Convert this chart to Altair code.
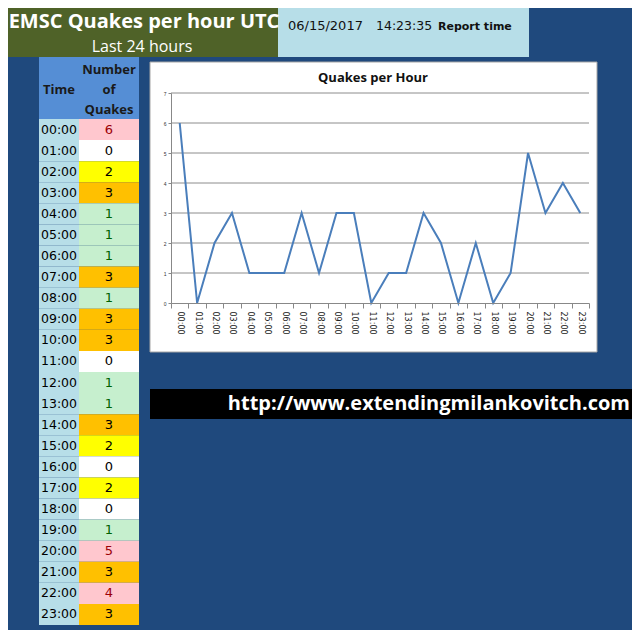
import altair as alt
import pandas as pd

# ---- data ----
hours = ["00:00", "01:00", "02:00", "03:00", "04:00", "05:00", "06:00", "07:00",
         "08:00", "09:00", "10:00", "11:00", "12:00", "13:00", "14:00", "15:00",
         "16:00", "17:00", "18:00", "19:00", "20:00", "21:00", "22:00", "23:00"]
counts = [6, 0, 2, 3, 1, 1, 1, 3, 1, 3, 3, 0, 1, 1, 3, 2, 0, 2, 0, 1, 5, 3, 4, 3]
y_ticks = [0, 1, 2, 3, 4, 5, 6, 7]
grid_vals = [1, 2, 3, 4, 5, 6, 7]
count_levels = [0, 1, 2, 3, 4, 5, 6]
report_date = "06/15/2017"
report_clock = "14:23:35"

df = pd.DataFrame({"hour": hours, "count": counts})
grid_df = pd.DataFrame({"count": grid_vals})
one = pd.DataFrame({"k": [0]})

BG = "#1F497D"
fill_range = ["#FFFFFF", "#C6EFCE", "#FFFF00", "#FFC000", "#FFC7CE", "#FFC7CE", "#FFC7CE"]
text_range = ["#000000", "#006100", "#000000", "#000000", "#9C0006", "#9C0006", "#9C0006"]


def box(x, x2, y, y2, color, **kw):
    return alt.Chart(one).mark_rect(color=color, **kw).encode(
        x=alt.value(x), x2=alt.value(x2), y=alt.value(y), y2=alt.value(y2))


def label(txt, x, y, **kw):
    return alt.Chart(one).mark_text(text=txt, **kw).encode(
        x=alt.value(x), y=alt.value(y))


# ---- header boxes ----
title_box = box(-3, 270, -4, 49, "#4F6228")
report_box = box(270, 521, -4, 49, "#B7DEE8")
t1 = label("EMSC Quakes per hour UTC", 136, 20, font="Open Sans", fontSize=20,
           fontWeight="bold", color="white", align="center", baseline="alphabetic")
t2 = label("Last 24 hours", 134, 44, font="Open Sans", fontSize=16,
           color="white", align="center", baseline="alphabetic")
r1 = label(report_date, 280, 22, font="DejaVu Sans", fontSize=13, color="#111111",
           align="left", baseline="alphabetic")
r2 = label(report_clock, 368, 22, font="DejaVu Sans", fontSize=12.5, color="#111111",
           align="left", baseline="alphabetic")
r3 = label("Report time", 430, 22, font="DejaVu Sans", fontSize=11, fontWeight="bold",
           color="#111111", align="left", baseline="alphabetic")

# ---- table ----
head_box = box(31, 131, 49, 111, "#558ED5")
h_time = label("Time", 51, 82, font="Open Sans", fontSize=13, fontWeight="bold",
               color="#1A1A1A", align="center", baseline="middle")
h_n1 = label("Number", 101, 62, font="Open Sans", fontSize=13, fontWeight="bold",
             color="#1A1A1A", align="center", baseline="middle")
h_n2 = label("of", 101, 82, font="Open Sans", fontSize=13, fontWeight="bold",
             color="#1A1A1A", align="center", baseline="middle")
h_n3 = label("Quakes", 101, 102, font="Open Sans", fontSize=13, fontWeight="bold",
             color="#1A1A1A", align="center", baseline="middle")

row_y = alt.Y("hour:N", scale=alt.Scale(domain=hours, range=[111, 617],
                                        paddingInner=0, paddingOuter=0), axis=None)
base = alt.Chart(df)
time_cells = base.mark_rect(color="#B7DEE8").encode(
    y=row_y, x=alt.value(31), x2=alt.value(71))
count_cells = base.mark_rect().encode(
    y=row_y, x=alt.value(71), x2=alt.value(131),
    fill=alt.Fill("count:O", scale=alt.Scale(domain=count_levels, range=fill_range),
                  legend=None))
time_text = base.mark_text(font="DejaVu Sans", fontSize=12.5, color="#000000",
                           align="center", baseline="middle").encode(
    y=row_y, x=alt.value(51), text="hour:N")
count_text = base.mark_text(font="DejaVu Sans", fontSize=13,
                            align="center", baseline="middle").encode(
    y=row_y, x=alt.value(101), text="count:Q",
    color=alt.Color("count:O", scale=alt.Scale(domain=count_levels, range=text_range),
                    legend=None))
table = alt.layer(time_cells, count_cells, time_text, count_text).resolve_scale(
    fill="independent", color="independent")

# ---- line chart ----
chart_box = box(142, 589, 54, 344, "white", stroke="#A6A6A6", strokeWidth=1)
chart_title = label("Quakes per Hour", 365, 74, font="Open Sans", fontSize=13,
                    fontWeight="bold", color="#111111", align="center",
                    baseline="alphabetic")
xs = alt.X("hour:N", scale=alt.Scale(type="band", domain=hours, range=[163, 581],
                                     paddingInner=0, paddingOuter=0),
           axis=alt.Axis(orient="bottom", offset=-327, labelAngle=90, labelFontSize=8,
                         labelFont="DejaVu Sans", labelColor="#222222",
                         tickBand="extent", tickSize=5, tickColor="#888888",
                         domainColor="#888888", grid=False, title=None,
                         labelPadding=3, zindex=2))
y_axis = alt.Axis(orient="left", offset=-163, values=y_ticks, grid=False,
                  labelFontSize=5, labelColor="#333333", tickSize=3,
                  tickColor="#888888", domainColor="#888888", title=None,
                  labelPadding=2, zindex=2)
ys_scale = alt.Scale(domain=[0, 7], range=[295, 85], nice=False, zero=True)
grid = alt.Chart(grid_df).mark_rule(color="#8C8C8C", strokeWidth=1).encode(
    y=alt.Y("count:Q", scale=ys_scale, axis=y_axis),
    x=alt.value(163), x2=alt.value(581))
line = alt.Chart(df).mark_line(color="#4A7EBB", strokeWidth=2).encode(
    x=xs,
    y=alt.Y("count:Q", scale=ys_scale, axis=y_axis))
linechart = alt.layer(grid, line)

# ---- url bar ----
url_box = box(142, 640, 381, 411, "black")
url_text = label("http://www.extendingmilankovitch.com", 622, 402, font="Open Sans",
                 fontSize=20, fontWeight="bold", color="white", align="right",
                 baseline="alphabetic")

chart = alt.layer(
    title_box, report_box, t1, t2, r1, r2, r3,
    head_box, h_time, h_n1, h_n2, h_n3,
    table,
    chart_box, chart_title, linechart,
    url_box, url_text,
).resolve_scale(x="independent", y="independent").properties(
    width=624, height=622, padding=0,
    autosize=alt.AutoSizeParams(type="none"),
    background=BG,
).configure_view(stroke=None)

chart.save("out.html", embed_options={"renderer": "svg", "actions": False})
